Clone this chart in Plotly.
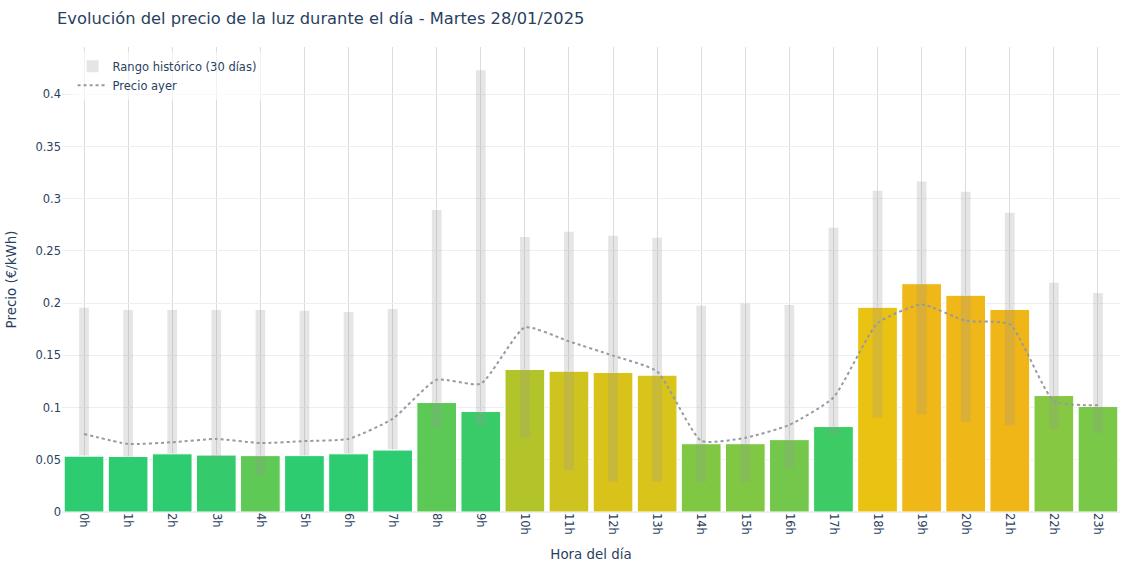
import plotly.graph_objects as go

horas = [f"{h}h" for h in range(24)]

precio_hoy = [0.0535, 0.0532, 0.0557, 0.0545, 0.054, 0.054, 0.0557, 0.0593,
              0.1048, 0.0962, 0.1365, 0.1348, 0.1336, 0.131, 0.0654, 0.0654,
              0.0693, 0.0818, 0.196, 0.2186, 0.2075, 0.194, 0.1115, 0.101]

precio_ayer = [0.0747, 0.0652, 0.0668, 0.070, 0.066, 0.0679, 0.070, 0.0892,
               0.1266, 0.1228, 0.1768, 0.1634, 0.1497, 0.1346, 0.0681, 0.071,
               0.0834, 0.1096, 0.1808, 0.1987, 0.183, 0.1798, 0.1063, 0.1021]

rango_min = [0.054, 0.053, 0.056, 0.0515, 0.035, 0.054, 0.056, 0.060,
             0.0804, 0.0827, 0.071, 0.0403, 0.0292, 0.0292, 0.0285, 0.0285,
             0.0416, 0.0743, 0.0906, 0.0935, 0.0862, 0.083, 0.0798, 0.0756]

rango_max = [0.1956, 0.1934, 0.1934, 0.1934, 0.1934, 0.1927, 0.1916, 0.1945,
             0.2893, 0.423, 0.2633, 0.2684, 0.2645, 0.2625, 0.1975, 0.1997,
             0.1982, 0.2723, 0.3076, 0.3165, 0.3066, 0.2865, 0.2195, 0.2096]

colores = ["#2ECC71", "#2ECC71", "#2ECC71", "#35CA6B", "#5FC955", "#2ECC71",
           "#2ECC71", "#2ECC71", "#5CC957", "#3ACB69", "#B3C42A", "#CFC31F",
           "#D9C31A", "#D8C41A", "#80C843", "#80C843", "#73C84B", "#3DCB66",
           "#EAC211", "#EFB717", "#EFB717", "#F0B516", "#86C841", "#7AC847"]

fig = go.Figure()

# precio de hoy
fig.add_trace(go.Bar(x=horas, y=precio_hoy, width=0.9,
                     marker=dict(color=colores, line=dict(color="white", width=1)),
                     showlegend=False, name="Precio hoy"))

# rango historico (min-max de los ultimos 30 dias)
alto = [mx - mn for mx, mn in zip(rango_max, rango_min)]
fig.add_trace(go.Bar(x=horas, y=alto, base=rango_min, width=0.22,
                     marker=dict(color="rgba(150,150,150,0.25)", line=dict(width=0)),
                     name="Rango histórico (30 días)"))

fig.add_trace(go.Scatter(x=horas, y=precio_ayer, mode="lines",
                         line=dict(color="#959ba3", dash="dot", width=2, shape="spline", smoothing=0.5),
                         name="Precio ayer"))

fig.update_layout(
    template="plotly_white",
    width=1140, height=570,
    barmode="overlay",
    font=dict(family="DejaVu Sans", size=11.5),
    title=dict(text="Evolución del precio de la luz durante el día - Martes 28/01/2025",
               font=dict(size=16.3),
               x=0.05, xanchor="left", y=0.968, yanchor="middle"),
    margin=dict(l=62, r=20, t=47, b=58),
    legend=dict(x=0.01, y=0.99, bgcolor="rgba(255,255,255,0.6)"),
    xaxis=dict(title=dict(text="Hora del día", font=dict(size=13.4)),
               tickangle=90, showgrid=True, automargin=False,
               gridcolor="#dcdcdc", gridwidth=1),
    yaxis=dict(title=dict(text="Precio (€/kWh)", font=dict(size=13.4)), automargin=False),
)

# quitar el margen de 8px del body para que la figura ocupe toda la ventana
fig.write_html("out.html", config={"displayModeBar": False},
               post_script="document.body.style.margin='0';")
